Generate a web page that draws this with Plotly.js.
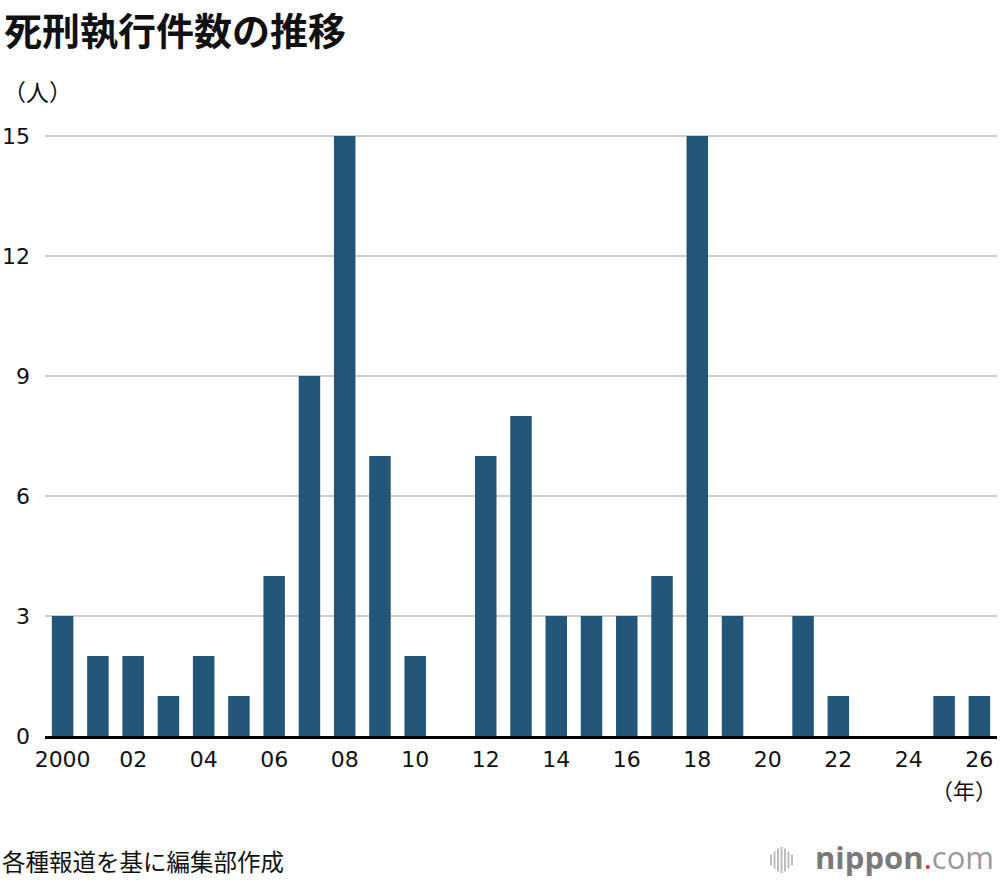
<!DOCTYPE html>
<html>
<head>
<meta charset="utf-8">
<script src="https://cdn.plot.ly/plotly-3.0.1.min.js"></script>
<style>
  html, body { margin: 0; padding: 0; background: #fff; }
  #chart { width: 1000px; height: 880px; }
</style>
</head>
<body>
<div id="chart"></div>
<script>
// 死刑執行件数（人）
var years = [2000, 2001, 2002, 2003, 2004, 2005, 2006, 2007, 2008, 2009,
             2010, 2011, 2012, 2013, 2014, 2015, 2016, 2017, 2018, 2019,
             2020, 2021, 2022, 2023, 2024, 2025, 2026];
var executions = [3, 2, 2, 1, 2, 1, 4, 9, 15, 7,
                  2, 0, 7, 8, 3, 3, 3, 4, 15, 3,
                  0, 3, 1, 0, 0, 1, 1];
var xTickVals = [2000, 2002, 2004, 2006, 2008, 2010, 2012, 2014, 2016, 2018, 2020, 2022, 2024, 2026];
var xTickText = ['2000', '02', '04', '06', '08', '10', '12', '14', '16', '18', '20', '22', '24', '26'];
var yTickVals = [0, 3, 6, 9, 12, 15];

var barColor = '#24567a';
var jpFont = '"Noto Sans CJK JP", "Noto Sans", sans-serif';
var numFont = '"DejaVu Sans", "Liberation Sans", sans-serif';

// pixel helpers for placing the loose texts (plot area: x 45..997, y 134..736)
function px(p) { return (p - 45) / 952; }
function py(p) { return (736 - p) / 602; }

var data = [{
    type: 'bar',
    x: years,
    y: executions,
    marker: { color: barColor },
    hoverinfo: 'x+y'
}];

// small bars of the nippon.com logo
var logoBars = [[771, 11], [774.5, 17], [778, 23], [781.5, 26], [785, 23], [788.5, 17], [792, 11]];
var shapes = logoBars.map(function(b) {
    return {
        type: 'line', xref: 'paper', yref: 'paper',
        x0: px(b[0]), x1: px(b[0]),
        y0: py(860 - b[1] / 2), y1: py(860 + b[1] / 2),
        line: { color: '#bdbdbd', width: 2 }
    };
});

var layout = {
    width: 1000,
    height: 880,
    margin: { l: 45, r: 3, t: 134, b: 144 },
    paper_bgcolor: '#fff',
    plot_bgcolor: '#fff',
    showlegend: false,
    bargap: 0.39,
    xaxis: {
        range: [1999.5, 2026.5],
        tickvals: xTickVals,
        ticktext: xTickText,
        ticks: '',
        showgrid: false,
        zeroline: false,
        showline: true,
        linecolor: '#000',
        linewidth: 2.5,
        ticklabelstandoff: 2,
        tickfont: { family: numFont, size: 22, color: '#111' },
        fixedrange: true
    },
    yaxis: {
        range: [0, 15.05],
        tickvals: yTickVals,
        ticks: '',
        showgrid: true,
        gridcolor: '#cfcfcf',
        gridwidth: 1.5,
        zeroline: false,
        showline: false,
        ticklabelstandoff: 14,
        tickfont: { family: numFont, size: 22, color: '#111' },
        fixedrange: true
    },
    shapes: shapes,
    annotations: [
        {
            text: '<b>死刑執行件数の推移</b>', xref: 'paper', yref: 'paper',
            x: px(2), xanchor: 'left', y: py(29), yanchor: 'middle',
            showarrow: false, font: { family: jpFont, size: 38, color: '#111' }
        },
        {
            text: '（人）', xref: 'paper', yref: 'paper',
            x: px(1), xanchor: 'left', y: py(91), yanchor: 'middle',
            showarrow: false, font: { family: jpFont, size: 23, color: '#111' }
        },
        {
            text: '（年）', xref: 'paper', yref: 'paper',
            x: px(999), xanchor: 'right', y: py(789), yanchor: 'middle',
            showarrow: false, font: { family: jpFont, size: 22, color: '#111' }
        },
        {
            text: '各種報道を基に編集部作成', xref: 'paper', yref: 'paper',
            x: px(0), xanchor: 'left', y: py(861), yanchor: 'middle',
            showarrow: false, font: { family: jpFont, size: 23.5, color: '#111' }
        },
        {
            text: '<b>nippon</b><span style="color:#e8202a">.</span><span style="color:#9a9a9a">com</span>',
            xref: 'paper', yref: 'paper',
            x: px(996), xanchor: 'right', y: py(857), yanchor: 'middle',
            showarrow: false, font: { family: '"Open Sans", sans-serif', size: 31, color: '#7a7a7a' }
        }
    ]
};

Plotly.newPlot('chart', data, layout, { displayModeBar: false, staticPlot: true });
</script>
</body>
</html>
